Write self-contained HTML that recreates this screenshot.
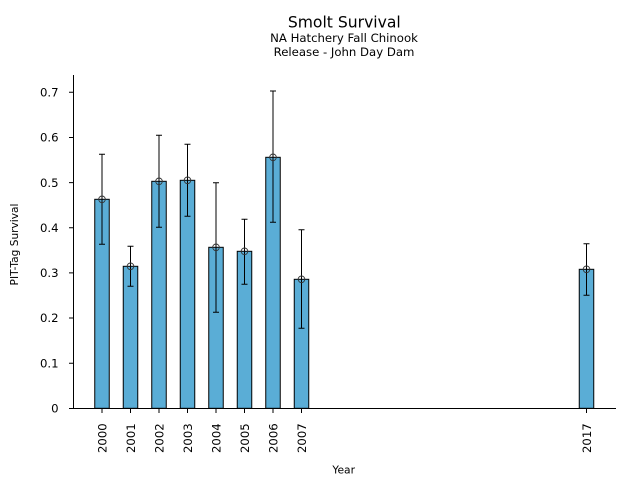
<!DOCTYPE html>
<html><head><meta charset="utf-8"><style>
html,body{margin:0;padding:0;background:#fff;}
svg{display:block;}
text{font-family:"DejaVu Sans","Liberation Sans",sans-serif;fill:#000;}
</style></head><body>
<svg width="640" height="480" viewBox="0 0 640 480" xmlns="http://www.w3.org/2000/svg">
<rect x="0" y="0" width="640" height="480" fill="#fff"/>
<!-- titles -->
<text x="344.3" y="27.5" font-size="15.6" text-anchor="middle">Smolt Survival</text>
<text x="344" y="41.8" font-size="11.7" text-anchor="middle">NA Hatchery Fall Chinook</text>
<text x="344" y="56" font-size="11.7" text-anchor="middle">Release - John Day Dam</text>

<!-- bars -->
<g fill="#5aadd6" stroke="#000" stroke-width="1">
<rect x="94.75" y="199.3" width="14.5" height="209"/>
<rect x="123.25" y="266.3" width="14.5" height="142"/>
<rect x="151.75" y="181.3" width="14.5" height="227"/>
<rect x="180.25" y="180.3" width="14.5" height="228"/>
<rect x="208.75" y="247.3" width="14.5" height="161"/>
<rect x="237.25" y="251.3" width="14.5" height="157"/>
<rect x="265.75" y="157.3" width="14.5" height="251"/>
<rect x="294.25" y="279.3" width="14.5" height="129"/>
<rect x="579.25" y="269.3" width="14.5" height="139"/>
</g>

<!-- error bars -->
<g stroke="#000" stroke-width="1" fill="none">
<path d="M102 154.3V244.3M99 154.3H105M99 244.3H105"/>
<path d="M130.5 246.3V286.3M127.5 246.3H133.5M127.5 286.3H133.5"/>
<path d="M159 135.3V227.3M156 135.3H162M156 227.3H162"/>
<path d="M187.5 144.3V216.3M184.5 144.3H190.5M184.5 216.3H190.5"/>
<path d="M216 182.7V312.3M213 182.7H219M213 312.3H219"/>
<path d="M244.5 219.3V284.3M241.5 219.3H247.5M241.5 284.3H247.5"/>
<path d="M273 91V222.3M270 91H276M270 222.3H276"/>
<path d="M301.5 229.7V328.3M298.5 229.7H304.5M298.5 328.3H304.5"/>
<path d="M586.5 243.7V295.3M583.5 243.7H589.5M583.5 295.3H589.5"/>
</g>
<!-- markers -->
<g stroke="#333" stroke-width="0.9" fill="none">
<circle cx="102" cy="199.3" r="3.3"/>
<circle cx="130.5" cy="266.3" r="3.3"/>
<circle cx="159" cy="181.3" r="3.3"/>
<circle cx="187.5" cy="180.3" r="3.3"/>
<circle cx="216" cy="247.3" r="3.3"/>
<circle cx="244.5" cy="251.3" r="3.3"/>
<circle cx="273" cy="157.3" r="3.3"/>
<circle cx="301.5" cy="279.3" r="3.3"/>
<circle cx="586.5" cy="269.3" r="3.3"/>
</g>

<!-- spines -->
<g stroke="#000" stroke-width="1" fill="none">
<path d="M73.5 75V408.8"/>
<path d="M73 408.5H616"/>
<!-- y ticks -->
<path d="M69 408.5H73.5M69 363.2H73.5M69 318H73.5M69 272.9H73.5M69 227.7H73.5M69 182.6H73.5M69 137.5H73.5M69 92.3H73.5"/>
<!-- x ticks -->
<path d="M102 408.5V413M130.5 408.5V413M159 408.5V413M187.5 408.5V413M216 408.5V413M244.5 408.5V413M273 408.5V413M301.5 408.5V413M586.5 408.5V413"/>
</g>

<!-- y tick labels -->
<g font-size="11.7" text-anchor="end">
<text x="58.6" y="412.6">0</text>
<text x="58.6" y="367.4">0.1</text>
<text x="58.6" y="322.2">0.2</text>
<text x="58.6" y="277.1">0.3</text>
<text x="58.6" y="231.9">0.4</text>
<text x="58.6" y="186.8">0.5</text>
<text x="58.6" y="141.7">0.6</text>
<text x="58.6" y="96.5">0.7</text>
</g>

<!-- x tick labels -->
<g font-size="11.7" text-anchor="end">
<text transform="translate(106.3,423.3) rotate(-90)">2000</text>
<text transform="translate(134.8,423.3) rotate(-90)">2001</text>
<text transform="translate(163.3,423.3) rotate(-90)">2002</text>
<text transform="translate(191.8,423.3) rotate(-90)">2003</text>
<text transform="translate(220.3,423.3) rotate(-90)">2004</text>
<text transform="translate(248.8,423.3) rotate(-90)">2005</text>
<text transform="translate(277.3,423.3) rotate(-90)">2006</text>
<text transform="translate(305.8,423.3) rotate(-90)">2007</text>
<text transform="translate(590.8,423.3) rotate(-90)">2017</text>
</g>

<!-- axis labels -->
<text x="343.7" y="473.5" font-size="10.7" text-anchor="middle">Year</text>
<text transform="translate(18,244.5) rotate(-90)" font-size="10.6" text-anchor="middle">PIT-Tag Survival</text>
</svg>
</body></html>
